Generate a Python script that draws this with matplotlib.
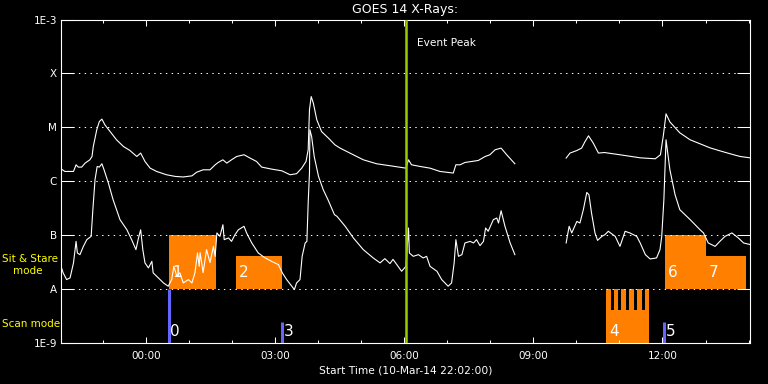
import matplotlib
matplotlib.use("Agg")
import matplotlib.pyplot as plt
import matplotlib.dates as mdates
import numpy as np
import pandas as pd

start = pd.Timestamp("2014-03-10 22:02:00")

# GOES long channel (1-8 A), hours after start / flux W m^-2
long_hours = [0.00, 0.09, 0.29, 0.35, 0.40, 0.48, 0.56, 0.67, 0.72, 0.75, 0.83, 0.89, 0.95,
              1.02, 1.14, 1.29, 1.45, 1.60, 1.76, 1.85, 1.95, 2.07, 2.22, 2.45, 2.65, 2.84,
              3.04, 3.15, 3.30, 3.46, 3.58, 3.65, 3.76, 3.85, 3.96, 4.08, 4.25, 4.39, 4.54,
              4.66, 4.89, 5.13, 5.32, 5.47, 5.59, 5.69, 5.74, 5.77, 5.81, 5.86, 5.94, 6.05,
              6.21, 6.36, 6.48, 6.71, 7.02, 7.33, 7.64, 8.01, 8.07, 8.14, 8.34, 8.57, 8.80,
              9.11, 9.17, 9.27, 9.38, 9.54, 9.69, 9.85, 9.96, 10.08, 10.22, 10.35, 10.54,
              10.60,
              11.73, 11.82, 11.98, 12.09, 12.17, 12.25, 12.36, 12.48, 12.62, 12.98, 13.45,
              13.80, 13.92, 13.99, 14.05, 14.14, 14.37, 14.61, 14.84, 15.07, 15.30, 15.54,
              15.77, 16.00]
long_flux = [1.70e-6, 1.52e-6, 1.52e-6, 2.02e-6, 1.83e-6, 1.83e-6, 2.17e-6, 2.50e-6, 2.88e-6,
             4.41e-6, 8.99e-6, 1.28e-5, 1.42e-5, 1.11e-5, 8.36e-6, 5.87e-6, 4.41e-6, 3.72e-6,
             2.88e-6, 3.33e-6, 2.33e-6, 1.75e-6, 1.52e-6, 1.32e-6, 1.23e-6, 1.20e-6, 1.26e-6,
             1.47e-6, 1.63e-6, 1.63e-6, 2.02e-6, 2.23e-6, 2.50e-6, 2.17e-6, 2.50e-6, 2.88e-6,
             3.10e-6, 2.69e-6, 2.33e-6, 1.83e-6, 1.68e-6, 1.56e-6, 1.32e-6, 1.38e-6, 1.75e-6,
             2.33e-6, 3.83e-6, 2.11e-5, 3.72e-5, 2.81e-5, 1.38e-5, 8.36e-6, 6.31e-6, 4.74e-6,
             4.12e-6, 3.33e-6, 2.50e-6, 2.11e-6, 1.94e-6, 1.75e-6, 2.50e-6, 2.02e-6, 1.88e-6,
             1.75e-6, 1.52e-6, 1.42e-6, 2.02e-6, 2.02e-6, 2.23e-6, 2.33e-6, 2.43e-6, 2.88e-6,
             3.10e-6, 3.83e-6, 4.12e-6, 3.10e-6, 2.11e-6,
             np.nan,
             2.69e-6, 3.33e-6, 3.72e-6, 4.12e-6, 5.46e-6, 6.96e-6, 5.10e-6, 3.33e-6, 3.41e-6,
             3.10e-6, 2.72e-6, 2.61e-6, 3.10e-6, 7.26e-6, 1.78e-5, 1.26e-5, 7.91e-6, 5.87e-6,
             4.95e-6, 4.17e-6, 3.67e-6, 3.23e-6, 2.88e-6, 2.72e-6]

# GOES short channel (0.5-4 A)
short_hours = [0.00, 0.05, 0.13, 0.21, 0.29, 0.35, 0.38, 0.44, 0.52, 0.60, 0.70, 0.74, 0.79,
               0.84, 0.89, 0.95, 1.00, 1.10, 1.21, 1.37, 1.53, 1.64, 1.74, 1.80, 1.85, 1.90,
               1.95, 2.03, 2.11, 2.14, 2.26, 2.38, 2.49, 2.57, 2.62, 2.69, 2.76, 2.84, 2.96,
               3.04, 3.11, 3.17, 3.21, 3.23, 3.30, 3.38, 3.46, 3.54, 3.58, 3.62, 3.69, 3.76,
               3.79, 3.89, 3.96, 4.04, 4.12, 4.25, 4.31, 4.43, 4.58, 4.74, 4.89, 5.05, 5.14,
               5.24, 5.36, 5.42, 5.47, 5.55, 5.60, 5.67, 5.71, 5.74, 5.77, 5.78, 5.82, 5.88,
               5.98, 6.09, 6.20, 6.35, 6.41, 6.60, 6.79, 7.02, 7.25, 7.41, 7.52, 7.64, 7.71,
               7.80, 7.91, 8.01, 8.07, 8.09, 8.18, 8.30, 8.41, 8.49, 8.57, 8.73, 8.84, 8.99,
               9.07, 9.13, 9.17, 9.23, 9.31, 9.38, 9.50, 9.58, 9.65, 9.73, 9.81, 9.86, 9.92,
               10.04, 10.12, 10.16, 10.22, 10.31, 10.43, 10.54,
               10.60,
               11.73, 11.80, 11.86, 11.98, 12.05, 12.13, 12.21, 12.26, 12.32, 12.40, 12.46,
               12.56, 12.63, 12.71, 12.87, 12.98, 13.10, 13.21, 13.37, 13.45, 13.57, 13.68,
               13.83, 13.91, 13.95, 14.00, 14.05, 14.14, 14.26, 14.37, 14.61, 14.84, 14.92,
               15.03, 15.19, 15.30, 15.42, 15.58, 15.73, 15.85, 16.00]
short_flux = [2.64e-8, 2.00e-8, 1.50e-8, 1.61e-8, 3.06e-8, 7.67e-8, 4.68e-8, 4.35e-8, 6.20e-8,
              8.26e-8, 9.50e-8, 2.97e-7, 1.07e-6, 1.88e-6, 1.83e-6, 2.11e-6, 1.63e-6, 9.26e-7,
              4.54e-7, 1.94e-7, 1.26e-7, 8.26e-8, 5.39e-8, 8.87e-8, 1.26e-7, 5.39e-8, 3.06e-8,
              2.47e-8, 3.27e-8, 2.00e-8, 1.61e-8, 1.30e-8, 1.13e-8, 1.50e-8, 2.64e-8, 1.73e-8,
              2.00e-8, 1.30e-8, 1.50e-8, 1.30e-8, 2.00e-8, 4.68e-8, 2.64e-8, 4.74e-8, 2.02e-8,
              5.39e-8, 3.10e-8, 6.20e-8, 4.05e-8, 1.10e-7, 9.50e-8, 1.56e-7, 8.26e-8, 8.87e-8,
              7.67e-8, 1.02e-7, 1.26e-7, 1.46e-7, 1.10e-7, 7.17e-8, 4.68e-8, 3.78e-8, 3.27e-8,
              2.84e-8, 2.00e-8, 1.50e-8, 1.13e-8, 0.98e-8, 1.30e-8, 1.50e-8, 4.05e-8, 7.17e-8,
              7.67e-8, 3.95e-7, 1.42e-6, 8.99e-6, 6.76e-6, 2.88e-6, 1.23e-6, 6.96e-7, 4.54e-7,
              2.40e-7, 2.23e-7, 1.46e-7, 8.87e-8, 5.39e-8, 3.78e-8, 3.06e-8, 3.67e-8, 2.97e-8,
              3.56e-8, 2.84e-8, 2.14e-8, 2.64e-8, 1.36e-7, 4.68e-8, 4.05e-8, 4.35e-8, 3.78e-8,
              4.05e-8, 2.64e-8, 2.14e-8, 1.50e-8, 1.13e-8, 1.30e-8, 3.06e-8, 8.26e-8, 4.05e-8,
              4.35e-8, 7.17e-8, 7.67e-8, 7.17e-8, 8.26e-8, 6.39e-8, 7.67e-8, 1.36e-7, 1.18e-7,
              1.94e-7, 2.08e-7, 1.68e-7, 2.84e-7, 1.46e-7, 7.17e-8, 4.35e-8,
              np.nan,
              7.17e-8, 1.46e-7, 1.10e-7, 1.80e-7, 1.68e-7, 2.97e-7, 6.20e-7, 5.62e-7, 2.58e-7,
              1.10e-7, 8.01e-8, 9.50e-8, 1.02e-7, 1.18e-7, 9.50e-8, 6.20e-8, 1.18e-7, 1.10e-7,
              9.50e-8, 7.17e-8, 4.35e-8, 3.62e-8, 3.78e-8, 5.39e-8, 9.50e-8, 4.54e-7, 5.87e-6,
              1.63e-6, 5.62e-7, 2.97e-7, 1.94e-7, 1.26e-7, 1.10e-7, 7.17e-8, 6.20e-8, 7.67e-8,
              9.50e-8, 1.10e-7, 8.87e-8, 7.17e-8, 6.70e-8]

# observation windows (hours after start)
stare_labels = ["1", "2", "6", "7"]
stare_start = [2.51, 4.06, 14.03, 14.97]
stare_end = [3.59, 5.13, 14.97, 15.90]
stare_top = [1e-7, 4.1e-8, 1e-7, 4.1e-8]

scan_labels = ["0", "3", "4", "5"]
scan_time = [2.50, 5.14, 12.66, 14.01]
scan_line_top = [1e-8, 2.45e-9, None, 2.45e-9]
scan_block_end = 13.66
scan_slits = [12.80, 12.98, 13.16, 13.34, 13.52]
slit_bottom = 4.1e-9

event_peak = 8.02

flux_ticks = [1e-9, 1e-8, 1e-7, 1e-6, 1e-5, 1e-4, 1e-3]
flux_names = ["1E-9", "A", "B", "C", "M", "X", "1E-3"]


def to_time(h):
    return start + pd.to_timedelta(np.asarray(h, dtype=float), unit="h")


orange = "#FF8000"
blue = "#6464FF"
green = "#99CC00"

fig = plt.figure(figsize=(7.68, 3.84), dpi=100, facecolor="black")
ax = fig.add_axes([61 / 768, 41 / 384, 689 / 768, 323.5 / 384], facecolor="black")
ax.set_yscale("log")
ax.set_ylim(1e-9, 1e-3)
ax.set_xlim(to_time(0), to_time(16))

# sit & stare boxes
for lab, t0, t1, top in zip(stare_labels, stare_start, stare_end, stare_top):
    ax.fill_between(to_time([t0, t1]), [1e-8, 1e-8], [top, top], color=orange, lw=0, zorder=1)
    ax.annotate(lab, (to_time(t0), 2.0e-8), xytext=(2, 0), textcoords="offset points",
                color="white", fontsize=11, va="center", ha="left", zorder=5)

# scan mode
for lab, t, top in zip(scan_labels, scan_time, scan_line_top):
    if top is None:
        ax.fill_between(to_time([t, scan_block_end]), [1e-9, 1e-9], [1e-8, 1e-8],
                        color=orange, lw=0, zorder=1)
        for s in scan_slits:
            ax.fill_between(to_time([s - 0.035, s + 0.035]), [slit_bottom] * 2, [1e-8] * 2,
                            color="black", lw=0, zorder=1.5)
        off = 2
    else:
        ax.vlines(to_time(t), 1e-9, top, color=blue, lw=2.2, zorder=2)
        off = 1
    ax.annotate(lab, (to_time(t), 1.63e-9), xytext=(off, 0), textcoords="offset points",
                color="white", fontsize=11, va="center", ha="left", zorder=5)

# grid
for f in flux_ticks[1:-1]:
    ax.axhline(f, color="white", lw=0.72, dashes=(1.4, 4.4), zorder=3)

ax.plot(to_time(long_hours), long_flux, color="white", lw=0.8, zorder=4)
ax.plot(to_time(short_hours), short_flux, color="white", lw=0.8, zorder=4)

ax.axvline(to_time(event_peak), color=green, lw=1.8, zorder=4)
ax.annotate("Event Peak", (to_time(event_peak), 1), xycoords=("data", "axes fraction"),
            xytext=(8, -17), textcoords="offset points", color="white", fontsize=7.6,
            va="center", ha="left")

ax.set_yticks(flux_ticks)
ax.set_yticklabels(flux_names)
ax.yaxis.set_minor_locator(matplotlib.ticker.NullLocator())
ax.xaxis.set_major_locator(mdates.HourLocator(byhour=range(0, 24, 3)))
ax.xaxis.set_minor_locator(mdates.HourLocator())
ax.xaxis.set_major_formatter(mdates.DateFormatter("%H:%M"))

ax.tick_params(axis="x", which="major", direction="in", length=4.5, width=0.75,
               top=True, colors="white", labelsize=7.5, pad=6)
ax.tick_params(axis="x", which="minor", direction="in", length=2.4, width=0.75,
               top=True, colors="white")
ax.tick_params(axis="y", which="major", direction="in", length=9.7, width=0.75,
               right=True, colors="white", labelsize=7.5, pad=3)
for sp in ax.spines.values():
    sp.set_color("white")
    sp.set_linewidth(0.8)

ax.set_xlabel("Start Time (10-Mar-14 22:02:00)", color="white", fontsize=7.7, labelpad=3)
ax.set_title("GOES 14 X-Rays:", color="white", fontsize=9, pad=5)

fig.text(2 / 768, 1 - 259 / 384, "Sit & Stare", color="yellow", fontsize=7.5, va="center")
fig.text(13 / 768, 1 - 271 / 384, "mode", color="yellow", fontsize=7.5, va="center")
fig.text(2 / 768, 1 - 324 / 384, "Scan mode", color="yellow", fontsize=7.5, va="center")

fig.savefig("out.png", dpi=100, facecolor="black")
